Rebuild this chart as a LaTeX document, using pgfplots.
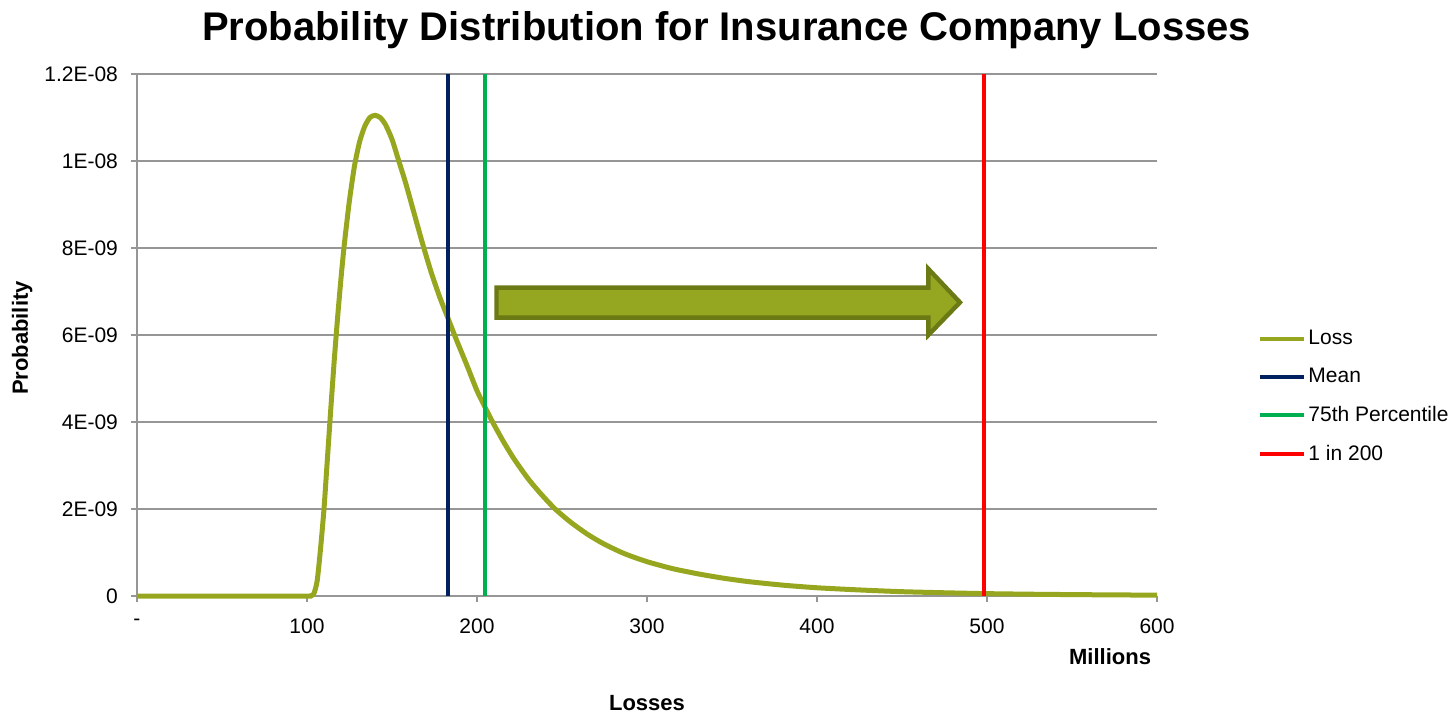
\documentclass[border=0pt]{standalone}
\usepackage{fontspec}
\setmainfont{Liberation Sans}
\usepackage{pgfplots}
\pgfplotsset{compat=1.18}
\definecolor{lossc}{RGB}{150,167,31}
\definecolor{meanc}{RGB}{0,32,96}
\definecolor{pctc}{RGB}{0,176,80}
\definecolor{redc}{RGB}{255,0,0}
\definecolor{gridc}{RGB}{150,150,150}
\definecolor{arrowfill}{RGB}{149,166,33}
\definecolor{arrowdraw}{RGB}{107,122,20}
\begin{document}
\begin{tikzpicture}
\begin{axis}[
  scale only axis, width=510pt, height=261pt,
  xmin=0, xmax=600, ymin=0, ymax=1.2e-8,
  axis x line*=bottom, axis y line*=left,
  axis line style={gridc, line width=0.9pt},
  tick align=outside, major tick length=3pt,
  tick style={gridc, line width=0.8pt},
  xtick={0,100,200,300,400,500,600},
  xticklabels={-,100,200,300,400,500,600},
  ytick={0,2e-9,4e-9,6e-9,8e-9,1e-8,1.2e-8},
  yticklabels={0,2E-09,4E-09,6E-09,8E-09,1E-08,1.2E-08},
  scaled y ticks=false,
  ymajorgrids, grid style={gridc, line width=0.9pt},
  ticklabel style={font=\fontsize{10.5}{12}\selectfont},
  xticklabel style={yshift=-5pt},
  yticklabel style={xshift=-3pt},
  clip=false,
  legend style={at={(1.099,0.382)}, anchor=west, draw=none, fill=none,
    font=\fontsize{10.5}{12}\selectfont, row sep=8.3pt, inner sep=0pt,
    nodes={inner sep=1pt}},
  legend cell align=left,
  legend image code/.code={\draw[#1, line width=2pt] (0pt,0pt) -- (22pt,0pt);},
]
\addplot[lossc, line width=2.5pt, smooth, tension=0.4] table {
x y
0 0
50 0
100 0
102 0.005e-9
104 0.05e-9
106 0.35e-9
108 1.1e-9
110 2.0e-9
112 3.15e-9
114 4.3e-9
116 5.4e-9
118 6.4e-9
120 7.3e-9
122 8.1e-9
125 9.1e-9
128 9.9e-9
131 10.45e-9
134 10.8e-9
137 11.0e-9
140 11.05e-9
143 11.0e-9
146 10.85e-9
150 10.5e-9
154 10.0e-9
158 9.5e-9
163 8.8e-9
168 8.1e-9
173 7.45e-9
178 6.88e-9
183 6.38e-9
188 5.88e-9
194 5.31e-9
200 4.72e-9
205 4.32e-9
210 3.94e-9
216 3.52e-9
222 3.14e-9
230 2.7e-9
238 2.33e-9
246 2.0e-9
255 1.70e-9
265 1.42e-9
275 1.19e-9
287 0.97e-9
300 0.79e-9
315 0.63e-9
330 0.51e-9
345 0.41e-9
360 0.33e-9
380 0.25e-9
400 0.19e-9
425 0.14e-9
450 0.10e-9
475 0.075e-9
500 0.055e-9
530 0.04e-9
560 0.03e-9
600 0.02e-9
};
\addlegendentry{Loss}
\addplot[meanc, line width=2pt] coordinates {(183,0) (183,1.2e-8)};
\addlegendentry{Mean}
\addplot[pctc, line width=2pt] coordinates {(205,0) (205,1.2e-8)};
\addlegendentry{75th Percentile}
\addplot[redc, line width=2pt] coordinates {(498,0) (498,1.2e-8)};
\addlegendentry{1 in 200}
\draw[fill=arrowfill, draw=arrowdraw, line width=2.2pt, line join=miter]
  (axis cs:211.5,7.09e-9) -- (axis cs:465.5,7.09e-9) -- (axis cs:465.5,7.52e-9)
  -- (axis cs:484.1,6.75e-9) -- (axis cs:465.5,6.0e-9) -- (axis cs:465.5,6.40e-9)
  -- (axis cs:211.5,6.40e-9) -- cycle;
\node[font=\bfseries\fontsize{20}{22}\selectfont, anchor=base] at (rel axis cs:0.578,1.065) {Probability Distribution for Insurance Company Losses};
\node[font=\bfseries\fontsize{11}{13}\selectfont] at (rel axis cs:0.954,-0.117) {Millions};
\node[font=\bfseries\fontsize{11}{13}\selectfont] at (rel axis cs:0.5,-0.205) {Losses};
\node[font=\bfseries\fontsize{11}{13}\selectfont, rotate=90] at (rel axis cs:-0.1125,0.494) {Probability};
\coordinate (bl) at (rel axis cs:-0.1343,-0.2261);
\coordinate (tr) at (rel axis cs:1.2931,1.1418);
\end{axis}
\path (bl) rectangle (tr);
\end{tikzpicture}
\end{document}
